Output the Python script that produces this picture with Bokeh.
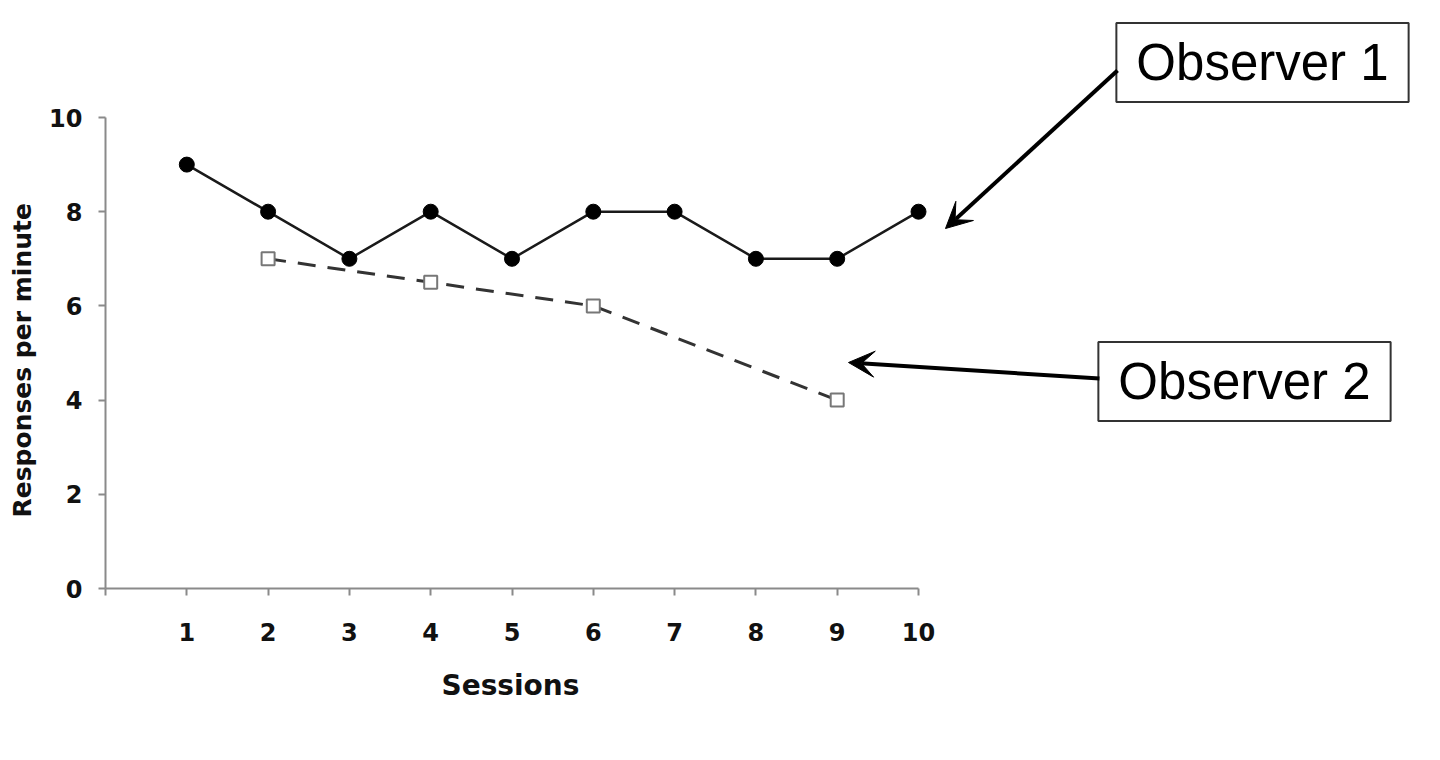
from bokeh.plotting import figure
from bokeh.models import Range1d, FixedTicker, Label, Arrow, VeeHead, Title
from bokeh.embed import file_html
from bokeh.resources import INLINE

# ---- data ----
sessions = list(range(1, 11))
observer1 = [9, 8, 7, 8, 7, 8, 8, 7, 7, 8]
obs2_sessions = [2, 4, 6, 9]
observer2 = [7, 6.5, 6, 4]
x_ticks = list(range(0, 11))
y_ticks = [0, 2, 4, 6, 8, 10]

# ---- layout ----
W, H = 1440, 760
LEFT = 105
X_END_PX, Y0_PX, Y10_PX = 918, 588, 117
PX_PER_X = (X_END_PX - LEFT) / 10.0
PX_PER_Y = (Y0_PX - Y10_PX) / 10.0

p = figure(width=W, height=H, output_backend="svg", toolbar_location=None,
           x_range=Range1d(0, (W - LEFT) / PX_PER_X), y_range=Range1d(0, Y0_PX / PX_PER_Y),
           min_border_left=LEFT, min_border_top=0,
           min_border_right=0, min_border_bottom=H - Y0_PX)
p.outline_line_color = None
p.grid.visible = False
p.background_fill_color = "white"
p.border_fill_color = "white"

AX = "#8a8a8a"
for ax in (p.xaxis[0], p.yaxis[0]):
    ax.axis_line_color = AX
    ax.axis_line_width = 2
    ax.major_tick_line_color = AX
    ax.major_tick_line_width = 2
    ax.major_tick_in = 0
    ax.major_tick_out = 7
    ax.minor_tick_line_color = None
    ax.major_label_text_font = "DejaVu Sans"
    ax.major_label_text_font_style = "bold"
    ax.major_label_text_font_size = "24px"
    ax.major_label_text_color = "#111111"

xa = p.xaxis[0]
xa.bounds = (0, 10)
xa.ticker = FixedTicker(ticks=x_ticks)
xa.major_label_overrides = {0: ""}
xa.major_label_standoff = 27

ya = p.yaxis[0]
ya.bounds = (0, 10)
ya.ticker = FixedTicker(ticks=y_ticks)
ya.major_label_standoff = 16

# axis titles, placed in the side panels so they centre on the 0-10 axis span
p.add_layout(Title(text="Sessions", align="left", offset=336, standoff=50,
                   vertical_align="top", text_font="DejaVu Sans",
                   text_font_style="bold", text_font_size="28px",
                   text_color="#111111"), "below")
p.add_layout(Title(text="Responses per minute", align="left", offset=71, standoff=15,
                   vertical_align="top",
                   text_font="DejaVu Sans", text_font_style="bold",
                   text_font_size="25px", text_color="#111111"), "left")

# Observer 2 (dashed, open squares)
p.line(obs2_sessions, observer2, line_color="#333333", line_width=3, line_dash="18 12")
p.scatter(obs2_sessions, observer2, marker="square", size=13, fill_color="white",
          line_color="#777777", line_width=2)

# Observer 1 (solid, filled circles)
p.line(sessions, observer1, line_color="#1a1a1a", line_width=2.5)
p.scatter(sessions, observer1, marker="circle", size=15, fill_color="black",
          line_color="black")


def dx(px):
    return (px - LEFT) / PX_PER_X


def dy(py):
    return (Y0_PX - py) / PX_PER_Y


# callouts
for txt, cx, cy in (("Observer 1", 1262, 62), ("Observer 2", 1244, 381)):
    p.add_layout(Label(x=dx(cx), y=dy(cy), text=txt, text_align="center",
                       text_baseline="middle", text_font="Liberation Sans",
                       text_font_size="51px", text_color="black",
                       border_line_color="#333333", border_line_width=2,
                       background_fill_color="white",
                       padding=dict(left=20, right=20, top=11, bottom=11)))

p.add_layout(Arrow(end=VeeHead(size=26, fill_color="black", line_color="black"),
                   x_start=dx(1117), y_start=dy(70), x_end=dx(945), y_end=dy(228),
                   line_width=4, line_color="black"))
p.add_layout(Arrow(end=VeeHead(size=26, fill_color="black", line_color="black"),
                   x_start=dx(1099), y_start=dy(378), x_end=dx(848), y_end=dy(362),
                   line_width=4, line_color="black"))

open("out.html", "w").write(file_html(p, INLINE))
